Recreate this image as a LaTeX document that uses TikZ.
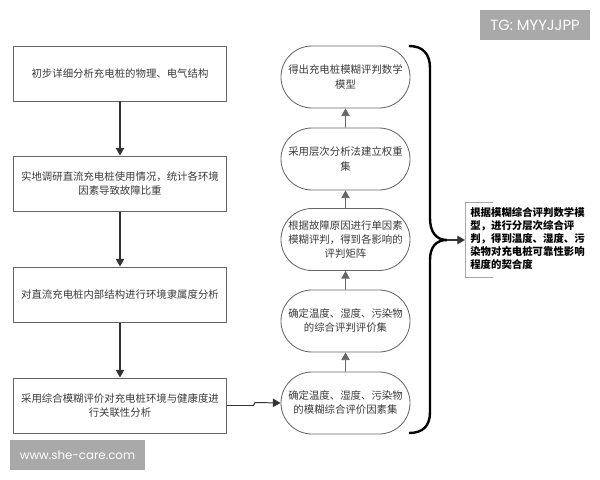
\documentclass[tikz,border=0pt]{standalone}
\usepackage{fontspec}
\newfontfamily\cjk{Noto Sans CJK SC}
\newfontfamily\markfont{Poppins}
\usetikzlibrary{shapes.misc,arrows.meta}
\definecolor{boxline}{HTML}{666666}
\definecolor{linedark}{HTML}{333333}
\definecolor{textdark}{HTML}{3A3A3A}
\definecolor{markgray}{HTML}{A9A9A9}
\tikzset{
    leftbox/.style={draw=boxline,line width=0.7pt,minimum width=5.3cm,minimum height=1.375cm,inner sep=0pt,align=center,text=textdark,font=\cjk\fontsize{7.4}{10}\selectfont},
    roundbox/.style={draw=boxline,line width=0.6pt,rounded rectangle,minimum width=3.225cm,minimum height=1.55cm,inner sep=0pt,align=center,text=textdark,font=\cjk\fontsize{7.4}{10}\selectfont},
    flow/.style={draw=linedark,line width=0.8pt,-{Triangle[length=5.5pt,width=6pt]}},
    thinflow/.style={flow,draw=boxline,line width=0.6pt},
    markbox/.style={fill=markgray,text=white,inner sep=0pt}
}
\begin{document}
\begin{tikzpicture}[x=0.025cm,y=-0.025cm]
    \useasboundingbox (0,0) rectangle (600,480);
    % left column
    \node[leftbox] (a1) at (120,73.5) {初步详细分析充电桩的物理、电气结构};
    \node[leftbox] (a2) at (120,183.5) {实地调研直流充电桩使用情况，统计各环境\\因素导致故障比重};
    \node[leftbox] (a3) at (120,294.5) {对直流充电桩内部结构进行环境隶属度分析};
    \node[leftbox] (a4) at (120,405.5) {采用综合模糊评价对充电桩环境与健康度进\\行关联性分析};
    \draw[flow] (a1)--(a2);
    \draw[flow] (a2)--(a3);
    \draw[flow] (a3)--(a4);
    % right column
    \node[roundbox] (b1) at (345.5,77) {得出充电桩模糊评判数学\\模型};
    \node[roundbox] (b2) at (345.5,159) {采用层次分析法建立权重\\集};
    \node[roundbox] (b3) at (345.5,239.5) {根据故障原因进行单因素\\模糊评判，得到各影响的\\评判矩阵};
    \node[roundbox] (b4) at (345.5,321) {确定温度、湿度、污染物\\的综合评判评价集};
    \node[roundbox] (b5) at (345.5,403) {确定温度、湿度、污染物\\的模糊综合评价因素集};
    \draw[thinflow] (b5)--(b4);
    \draw[thinflow] (b4)--(b3);
    \draw[thinflow] (b3)--(b2);
    \draw[thinflow] (b2)--(b1);
    \draw[flow,line width=0.7pt] (a4.east)--++(27,0)--++(1.5,-3)--(b5.west);
    % brace
    \coordinate (t) at (409,46);
    \coordinate (m) at (447,240);
    \coordinate (u) at (409,433);
    \draw[line width=1.7pt,black] (t) .. controls (423,46) and (430,54) .. (430,68)
        -- (430,218) .. controls (430,232) and (436,240) .. (m)
        .. controls (436,240) and (430,247) .. (430,260)
        -- (430,412) .. controls (430,426) and (423,433) .. (u);
    % result
    \node[anchor=west,inner sep=0pt,align=left,text=black,font=\cjk\bfseries\fontsize{7.4}{9.1}\selectfont] (c) at (470,238.5) {根据模糊综合评判数学模\\型，进行分层次综合评\\判，得到温度、湿度、污\\染物对充电桩可靠性影响\\程度的契合度};
    \coordinate (c1) at (493,202);
    \coordinate (c2) at (465,202);
    \coordinate (c3) at (465,277);
    \coordinate (c4) at (493,277);
    \draw[gray!70,line width=0.6pt] (c1)--(c2)--(c3)--(c4);
    \draw[flow] (m)--(c2|-m);
    % watermarks
    \node[markbox,minimum width=2.75cm,minimum height=0.75cm,font=\markfont\fontsize{10.5}{12}\selectfont] (tg) at (535,25) {TG: MYYJJPP};
    \node[markbox,minimum width=3.375cm,minimum height=0.75cm,font=\markfont\fontsize{8.4}{10}\selectfont] (web) at (77.5,455) {www.she-care.com};
\end{tikzpicture}
\end{document}
